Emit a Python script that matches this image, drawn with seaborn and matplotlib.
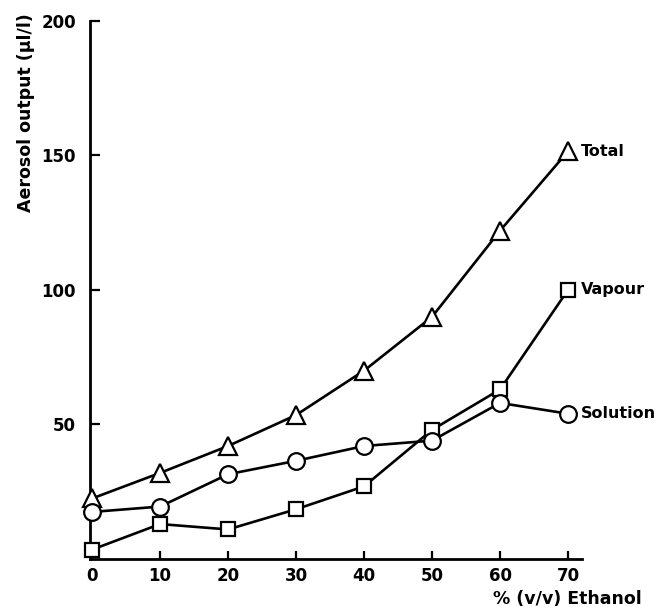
"""Aerosol output vs ethanol concentration: total, vapour and solution."""

import matplotlib
matplotlib.use("Agg")
import matplotlib.pyplot as plt
import seaborn as sns
import pandas as pd

# Data
ethanol = [0, 10, 20, 30, 40, 50, 60, 70]
total = [22.5, 32, 42, 53.5, 70, 90, 122, 151.5]
vapour = [3.5, 13, 11, 18.5, 27, 48, 63, 100]
solution = [17.5, 19.5, 31.5, 36.5, 42, 44, 58, 54]

series_names = ["Total", "Vapour", "Solution"]
series_markers = ["^", "s", "o"]
series_sizes = [13, 10, 12]

x_ticks = [0, 10, 20, 30, 40, 50, 60, 70]
y_ticks = [50, 100, 150, 200]

sns.set_style("ticks")
plt.rcParams["font.family"] = ["DejaVu Sans"]
plt.rcParams["text.color"] = "black"
plt.rcParams["axes.labelcolor"] = "black"
plt.rcParams["xtick.color"] = "black"
plt.rcParams["ytick.color"] = "black"
plt.rcParams["axes.edgecolor"] = "black"

df = pd.DataFrame({
    "ethanol": ethanol * 3,
    "value": total + vapour + solution,
    "series": [n for n in series_names for _ in ethanol],
})

fig = plt.figure(figsize=(6.62, 6.07), dpi=100)
ax = fig.add_axes([0.136, 0.079, 0.7426, 0.8868])

for name, mk, ms in zip(series_names, series_markers, series_sizes):
    sub = df[df["series"] == name]
    sns.lineplot(
        data=sub, x="ethanol", y="value", ax=ax,
        color="black", linewidth=1.9,
        marker=mk, markersize=ms,
        markerfacecolor="white", markeredgecolor="black", markeredgewidth=1.6,
        zorder=3, clip_on=False,
    )
    last = sub.iloc[-1]
    ax.annotate(name, (last["ethanol"], last["value"]),
                xytext=(9, 0), textcoords="offset points",
                ha="left", va="center", fontsize=11.5, fontweight="bold")

ax.set_xlim(-0.3, 72)
ax.set_ylim(0, 200)
ax.set_xticks(x_ticks)
ax.set_yticks(y_ticks)
ax.tick_params(axis="both", direction="in", width=1.6, labelsize=12)
ax.tick_params(axis="y", length=7, pad=10)
ax.tick_params(axis="x", length=6, pad=6)
for lbl in ax.get_xticklabels() + ax.get_yticklabels():
    lbl.set_fontweight("bold")

for side in ["top", "right"]:
    ax.spines[side].set_visible(False)
for side in ["left", "bottom"]:
    ax.spines[side].set_linewidth(2.0)

ax.set_ylabel("Aerosol output (µl/l)", fontsize=12.5, fontweight="bold", loc="top")
ax.yaxis.set_label_coords(-0.112, 1.014)
ax.set_xlabel("% (v/v) Ethanol", fontsize=12.5, fontweight="bold", loc="right")
ax.xaxis.set_label_coords(1.123, -0.058)

plt.savefig("out.png", dpi=100)
plt.close()
